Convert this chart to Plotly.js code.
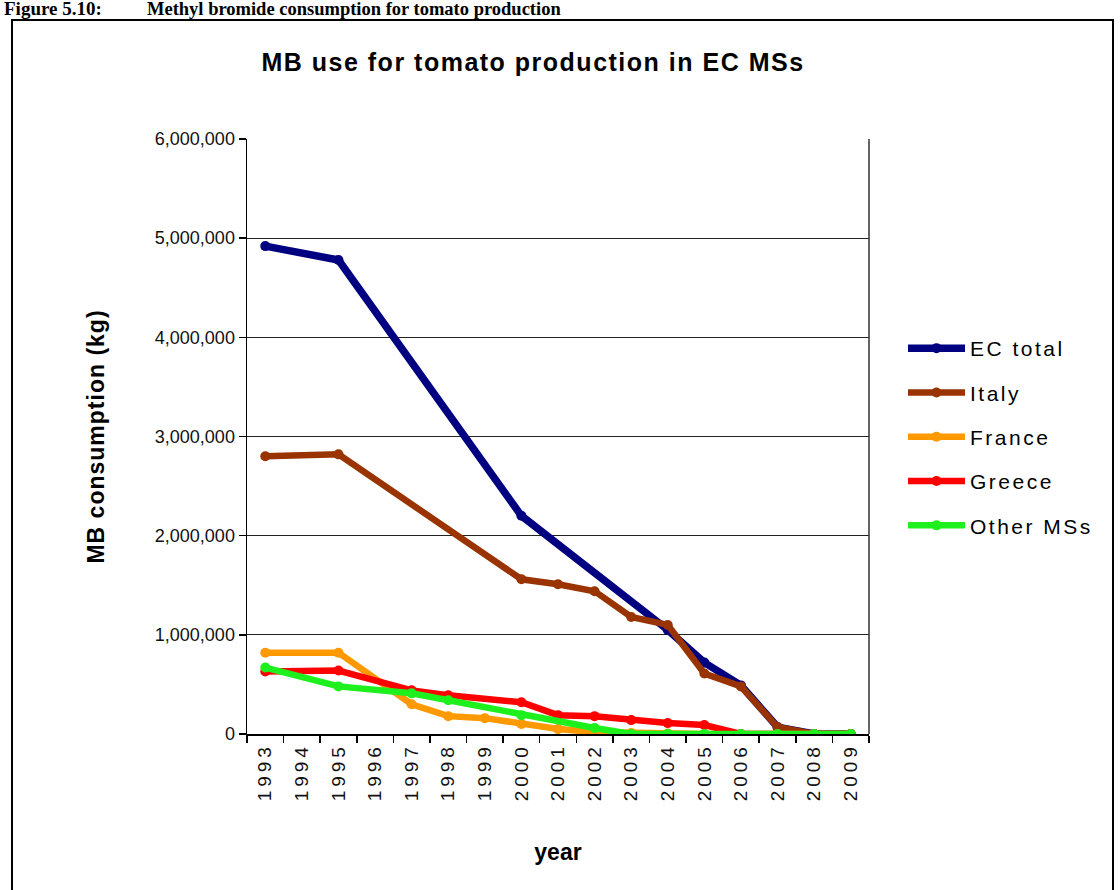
<!DOCTYPE html>
<html>
<head>
<meta charset="utf-8">
<script src="https://cdn.plot.ly/plotly-3.0.1.min.js"></script>
<style>
  html, body { margin: 0; padding: 0; background: #ffffff; }
  #chart { width: 1120px; height: 890px; }
  .xtick text { letter-spacing: 4px; }
  .ytitle { letter-spacing: 1px; }
  .legendtext { letter-spacing: 2.5px; }
  .gtitle { letter-spacing: 1.5px; }
</style>
</head>
<body>
<div id="chart"></div>
<script>
// ---- data ----
const years = ['1993','1994','1995','1996','1997','1998','1999','2000','2001','2002','2003','2004','2005','2006','2007','2008','2009'];
const ecTotal = [4920000, null, 4780000, null, null, null, null, 2200000, null, null, null, 1050000, 720000, 490000, 70000, 0, 0];
const italy   = [2800000, null, 2820000, null, null, null, null, 1560000, 1510000, 1440000, 1180000, 1100000, 610000, 480000, 70000, 0, 0];
const france  = [820000, null, 820000, null, 300000, 180000, 160000, 100000, 50000, 20000, 10000, 5000, 0, 0, 0, 0, 0];
const greece  = [630000, null, 640000, null, 440000, 390000, null, 320000, 190000, 180000, 140000, 110000, 90000, 0, 0, 0, 0];
const others  = [670000, null, 480000, null, 410000, 340000, null, 190000, null, 60000, 0, 0, 0, 0, 0, 0, 0];
const seriesNames = ['EC total', 'Italy', 'France', 'Greece', 'Other MSs'];
const yTickVals = [0, 1000000, 2000000, 3000000, 4000000, 5000000, 6000000];
const yTickText = ['0', '1,000,000', '2,000,000', '3,000,000', '4,000,000', '5,000,000', '6,000,000'];

const seriesData = [ecTotal, italy, france, greece, others];
const colors = ['#000080', '#993300', '#FF9900', '#FF0000', '#1EF01E'];
const widths = [7.5, 6.5, 6.5, 6.5, 6.5];
const msizes = [10, 10, 10, 10, 10];

const traces = seriesData.map((vals, i) => ({
  type: 'scatter',
  mode: 'lines+markers',
  name: seriesNames[i],
  x: years,
  y: vals,
  connectgaps: true,
  legendgroup: 'g' + i,
  line: { color: colors[i], width: widths[i] },
  marker: { color: colors[i], size: msizes[i], symbol: 'circle' }
}));

// plot area in pixels
const L = 247, R = 869, T = 139, B = 734, W = 1120, H = 890;
const pw = R - L, ph = B - T;
const px = v => (v - L) / pw;
const py = v => (B - v) / ph;

const layout = {
  width: W,
  height: H,
  margin: { l: L, r: W - R, t: T, b: H - B, pad: 0 },
  paper_bgcolor: '#ffffff',
  plot_bgcolor: '#ffffff',
  font: { family: 'Liberation Sans, Arial, sans-serif', color: '#000000' },
  title: {
    text: '<b>MB use for tomato production in EC MSs</b>',
    font: { size: 25, family: 'Liberation Sans, Arial, sans-serif', color: '#000' },
    x: 533 / W, xref: 'container', xanchor: 'center',
    y: 1 - 62 / H, yref: 'container', yanchor: 'middle'
  },
  xaxis: {
    type: 'category',
    range: [-0.5, 16.5],
    autorange: false,
    tickangle: -90,
    tickson: 'boundaries',
    ticks: 'outside',
    ticklen: 7,
    tickwidth: 1.5,
    tickcolor: '#000',
    showline: true,
    linecolor: '#000',
    linewidth: 1.5,
    showgrid: false,
    zeroline: false,
    tickfont: { size: 19, color: '#111' },
    title: { text: '<b>year</b>', font: { size: 23 }, standoff: 43 },
    fixedrange: true
  },
  yaxis: {
    range: [0, 6000000],
    autorange: false,
    tickvals: yTickVals,
    ticktext: yTickText,
    ticks: 'outside',
    ticklen: 7,
    tickwidth: 1.5,
    tickcolor: '#000',
    showline: true,
    linecolor: '#000',
    linewidth: 1.5,
    showgrid: true,
    gridcolor: '#222',
    gridwidth: 1.3,
    zeroline: false,
    tickfont: { size: 18, color: '#111' },
    title: { text: '<b>MB consumption (kg)</b>', font: { size: 23 }, standoff: 44 },
    fixedrange: true
  },
  showlegend: true,
  legend: {
    x: px(903), xanchor: 'left',
    y: py(328), yanchor: 'top',
    traceorder: 'grouped',
    tracegroupgap: 14,
    itemwidth: 57,
    font: { size: 21, color: '#000' },
    bgcolor: 'rgba(0,0,0,0)'
  },
  shapes: [
    // chart outer border
    { type: 'rect', xref: 'paper', yref: 'paper',
      x0: px(12), x1: px(1113), y0: py(905), y1: py(20),
      line: { color: '#000', width: 2 }, fillcolor: 'rgba(0,0,0,0)' },
    // right border of plot area
    { type: 'line', xref: 'paper', yref: 'paper',
      x0: 1, x1: 1, y0: 0, y1: 1,
      line: { color: '#333', width: 1.5 } }
  ],
  annotations: [
    { text: '<b>Figure 5.10:</b>', xref: 'paper', yref: 'paper',
      x: px(2), xanchor: 'left', y: py(21), yanchor: 'bottom', showarrow: false,
      font: { family: 'Liberation Serif, Times New Roman, serif', size: 19, color: '#000' } },
    { text: '<b>Methyl bromide consumption for tomato production</b>', xref: 'paper', yref: 'paper',
      x: px(145), xanchor: 'left', y: py(21), yanchor: 'bottom', showarrow: false,
      font: { family: 'Liberation Serif, Times New Roman, serif', size: 18.5, color: '#000' } }
  ]
};

Plotly.newPlot('chart', traces, layout, { displayModeBar: false, staticPlot: true });
</script>
</body>
</html>
